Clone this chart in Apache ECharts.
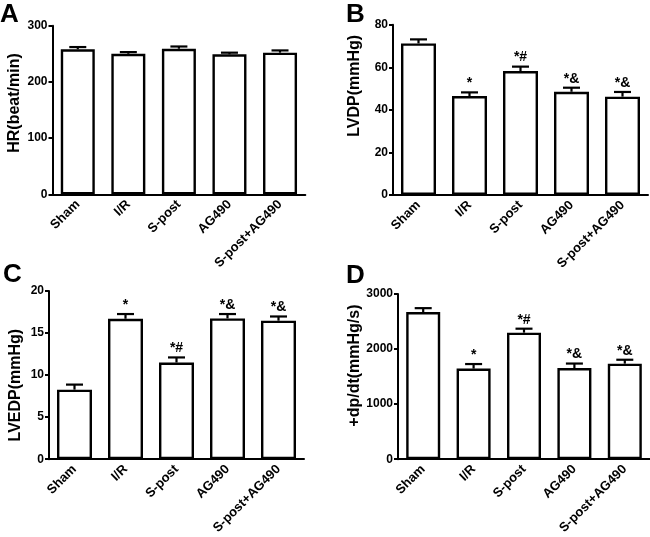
<!DOCTYPE html>
<html>
<head>
<meta charset="utf-8">
<script src="https://cdn.jsdelivr.net/npm/echarts@6/dist/echarts.min.js"></script>
<style>
html,body{margin:0;padding:0;background:#fff;}
#chart{width:650px;height:537px;}
</style>
</head>
<body>
<div id="chart"></div>
<script>
// ---- data ----
const categories = ['Sham', 'I/R', 'S-post', 'AG490', 'S-post+AG490'];

const hrMean = [258, 250, 259, 249, 252];
const hrErr = [4, 3, 4, 3, 4];
const hrMarks = ['', '', '', '', ''];

const lvdpMean = [71.2, 46.5, 58.2, 48.5, 46.2];
const lvdpErr = [1.9, 1.7, 2.1, 1.9, 2.2];
const lvdpMarks = ['', '*', '*#', '*&', '*&'];

const lvedpMean = [8.27, 16.7, 11.5, 16.74, 16.47];
const lvedpErr = [0.6, 0.56, 0.6, 0.52, 0.5];
const lvedpMarks = ['', '*', '*#', '*&', '*&'];

const dpdtMean = [2671, 1645, 2298, 1656, 1735];
const dpdtErr = [72, 83, 72, 81, 71];
const dpdtMarks = ['', '*', '*#', '*&', '*&'];

const yTitles = ['HR(beat/min)', 'LVDP(mmHg)', 'LVEDP(mmHg)', '+dp/dt(mmHg/s)'];
const yMax = [300, 80, 20, 3000];
const yInterval = [100, 20, 5, 1000];
const panelLetters = ['A', 'B', 'C', 'D'];

// ---- layout ----
const FONT = '"Liberation Sans", Arial, sans-serif';
const grids = [
  {left: 52.5, top: 25.7, width: 252.8, height: 168.6},
  {left: 393, top: 24.7, width: 255, height: 170.3},
  {left: 49, top: 291, width: 255, height: 170},
  {left: 398, top: 294, width: 252, height: 166.7}
];
const barWidths = [34, 35, 35, 34];
const namePads = [[0,0,0,14],[0,0,0,48],[0,20,0,0],[0,0,0,22]];
const nameGaps = [30, 30, 25, 31];

const allMeans = [hrMean, lvdpMean, lvedpMean, dpdtMean];
const allErrs = [hrErr, lvdpErr, lvedpErr, dpdtErr];
const allMarks = [hrMarks, lvdpMarks, lvedpMarks, dpdtMarks];

const xAxes = [], yAxes = [], series = [];
for (let i = 0; i < 4; i++) {
  xAxes.push({
    type: 'category', gridIndex: i, data: categories,
    axisLine: {lineStyle: {color: '#000', width: 2}},
    axisTick: {alignWithLabel: true, length: 5, lineStyle: {color: '#000', width: 2}},
    axisLabel: {rotate: 45, interval: 0, margin: 8, color: '#000', fontSize: 13, fontWeight: 'bold', fontFamily: FONT}
  });
  yAxes.push({
    type: 'value', gridIndex: i, min: 0, max: yMax[i], interval: yInterval[i],
    name: yTitles[i], nameLocation: 'middle', nameRotate: 90, nameGap: nameGaps[i],
    nameTextStyle: {color: '#000', fontSize: 16, fontWeight: 'bold', fontFamily: FONT, padding: namePads[i]},
    axisLine: {show: true, lineStyle: {color: '#000', width: 2}},
    axisTick: {show: true, length: 4, lineStyle: {color: '#000', width: 2}},
    splitLine: {show: false},
    axisLabel: {color: '#000', fontSize: 12, fontWeight: 'bold', fontFamily: FONT, margin: 5,
      formatter: function (v) { return String(v); }}
  });
  const mean = allMeans[i], err = allErrs[i], marks = allMarks[i];
  series.push({
    type: 'bar', xAxisIndex: i, yAxisIndex: i, data: mean, barWidth: barWidths[i],
    itemStyle: {color: '#fff', borderColor: '#000', borderWidth: 2.4},
    silent: true, z: 2
  });
  series.push({
    type: 'custom', xAxisIndex: i, yAxisIndex: i, z: 3, silent: true,
    data: categories.map((c, j) => [j, mean[j], err[j]]),
    renderItem: function (params, api) {
      const idx = api.value(0);
      const m = api.value(1), e = api.value(2);
      const p0 = api.coord([idx, m]);
      const p1 = api.coord([idx, m + e]);
      const half = 8.5;
      const style = {stroke: '#000', lineWidth: 2.2};
      const children = [
        {type: 'line', shape: {x1: p0[0], y1: p0[1], x2: p1[0], y2: p1[1]}, style: style},
        {type: 'line', shape: {x1: p1[0] - half, y1: p1[1], x2: p1[0] + half, y2: p1[1]}, style: style}
      ];
      const t = marks[params.dataIndex];
      if (t) {
        children.push({type: 'text', x: p1[0], y: p1[1] - 2,
          style: {text: t, fill: '#000', font: 'bold 14px ' + FONT, align: 'center', verticalAlign: 'bottom'}});
      }
      return {type: 'group', children: children};
    }
  });
}

const letterPos = [[0, 2], [346, 2], [3, 262], [346, 263]];
const graphics = panelLetters.map((L, i) => ({
  type: 'text', left: letterPos[i][0], top: letterPos[i][1],
  style: {text: L, fill: '#000', font: 'bold 26px ' + FONT}
}));

const chart = echarts.init(document.getElementById('chart'), null, {renderer: 'canvas'});
chart.setOption({
  animation: false,
  backgroundColor: '#fff',
  grid: grids,
  xAxis: xAxes,
  yAxis: yAxes,
  series: series,
  graphic: graphics
});
</script>
</body>
</html>
